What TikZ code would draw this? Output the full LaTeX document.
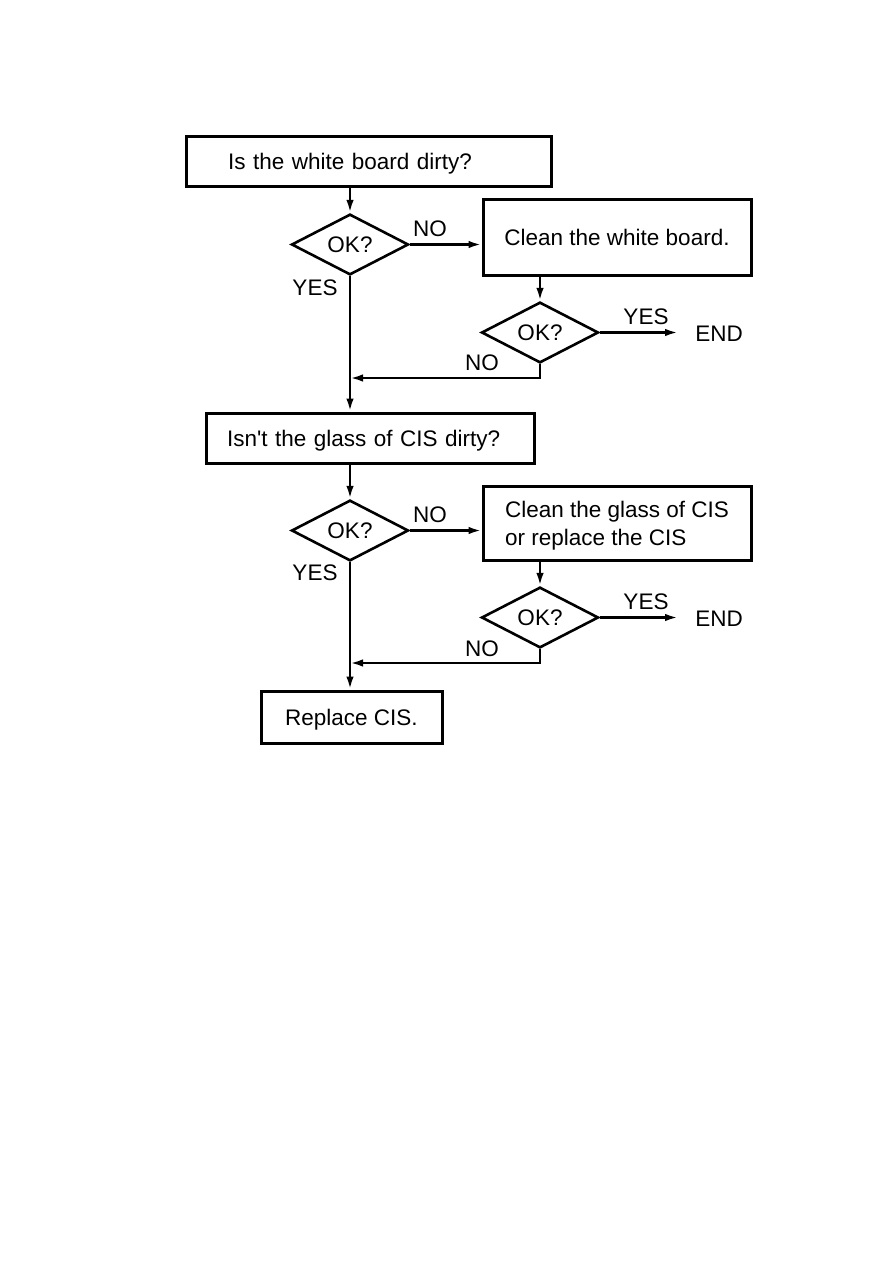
\documentclass[tikz,border=0pt]{standalone}
\usepackage{fontspec}
\setmainfont{Liberation Sans}
\usetikzlibrary{shapes.geometric,arrows.meta}
\begin{document}
\begin{tikzpicture}[x=1pt,y=-1pt,line width=2.5pt,>={Latex[length=13pt,width=7.5pt]},
	font=\fontsize{22.5}{28}\selectfont,
	stepbox/.style={draw,line width=3pt,inner ysep=0pt,text depth=0pt},
	okdia/.style={draw,diamond,line width=2.6pt,minimum width=117pt,minimum height=51pt,inner sep=0pt,text depth=0pt},
	lbl/.style={inner sep=0pt}]
	\useasboundingbox (0,0) rectangle (893,1263);
	% white board
	\node[stepbox,minimum height=50pt,text width=281pt,inner xsep=42pt,align=left] (wb) at (368.5,161) {Is the white board dirty?};
	\node[okdia] (ok1) at (350,244.5) {OK?};
	\node[stepbox,minimum width=268pt,minimum height=76pt] (cwb) at (617,237) {Clean the white board.};
	\node[okdia] (ok2) at (540,332.5) {OK?};
	\node[lbl,anchor=west,inner xsep=16pt] (end1) at (678,334) {END};
	\coordinate (j1) at (350,378);
	% glass of CIS
	\node[stepbox,minimum height=50pt,text width=286pt,inner xsep=21pt,align=left] (cis) at (370,438) {Isn\textquotesingle t the glass of CIS dirty?};
	\node[okdia] (ok3) at (350,530.5) {OK?};
	\node[stepbox,minimum width=268pt,minimum height=74pt,align=left] (ccis) at (617,523) {Clean the glass of CIS\\or replace the CIS};
	\node[okdia] (ok4) at (540,617.5) {OK?};
	\node[lbl,anchor=west,inner xsep=16pt] (end2) at (678,619) {END};
	\coordinate (j2) at (350,663);
	\node[stepbox,minimum width=181pt,minimum height=52pt] (rcis) at (351.5,717) {Replace CIS.};
	% labels
	\node[lbl] (no1) at (430,229) {NO};
	\node[lbl] (yes1) at (315,288) {YES};
	\node[lbl] (yes2) at (646,317) {YES};
	\node[lbl] (no2) at (482,363) {NO};
	\node[lbl] (no3) at (430,515) {NO};
	\node[lbl] (yes3) at (315,573) {YES};
	\node[lbl] (yes4) at (646,602) {YES};
	\node[lbl] (no4) at (482,649) {NO};
	% connectors
	\draw[->] (ok1.north |- wb.south) -- (ok1.north);
	\draw[->] (ok1.east) -- (ok1.east -| cwb.west);
	\draw[->] (ok1.south) -- (ok1.south |- cis.north);
	\draw[->] (ok2.north |- cwb.south) -- (ok2.north);
	\draw[->] (ok2.east) -- (ok2.east -| end1.west);
	\draw[->] (ok2.south) |- (j1);
	\draw[->] (ok3.north |- cis.south) -- (ok3.north);
	\draw[->] (ok3.east) -- (ok3.east -| ccis.west);
	\draw[->] (ok3.south) -- (ok3.south |- rcis.north);
	\draw[->] (ok4.north |- ccis.south) -- (ok4.north);
	\draw[->] (ok4.east) -- (ok4.east -| end2.west);
	\draw[->] (ok4.south) |- (j2);
\end{tikzpicture}
\end{document}
